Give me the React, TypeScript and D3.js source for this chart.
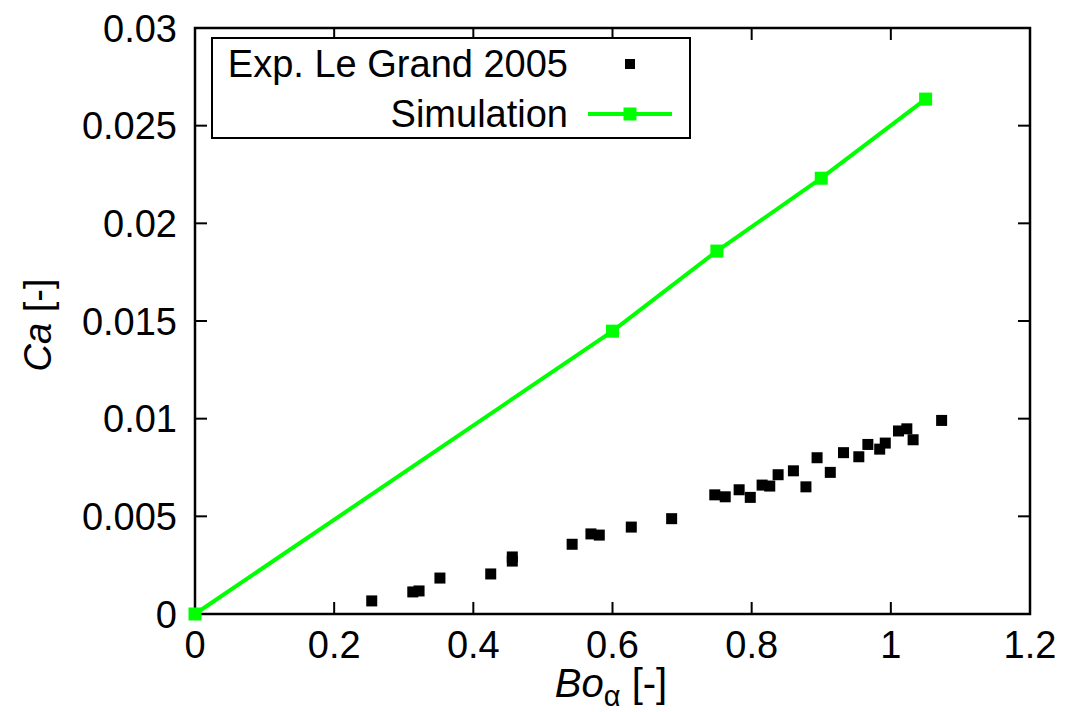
import React from "react";
import * as d3 from "d3";

const expBo = [0.254, 0.313, 0.322, 0.352, 0.425, 0.456, 0.456, 0.542, 0.569, 0.581, 0.627, 0.685, 0.747, 0.762, 0.782, 0.798, 0.815, 0.826, 0.838, 0.86, 0.878, 0.894, 0.913, 0.932, 0.954, 0.967, 0.984, 0.992, 1.011, 1.023, 1.032, 1.073];
const expCa = [0.00067, 0.00113, 0.00118, 0.00184, 0.00205, 0.00271, 0.00292, 0.00357, 0.0041, 0.00404, 0.00445, 0.00488, 0.0061, 0.006, 0.00636, 0.00597, 0.0066, 0.00655, 0.00713, 0.00733, 0.00651, 0.008, 0.00725, 0.00826, 0.00805, 0.00868, 0.00844, 0.00875, 0.00937, 0.00948, 0.00892, 0.00991];
const simBo = [0, 0.6, 0.75, 0.9, 1.05];
const simCa = [0, 0.01448, 0.01858, 0.02231, 0.02636];
const xTicks = [0, 0.2, 0.4, 0.6, 0.8, 1, 1.2];
const xTickLabels = ["0", "0.2", "0.4", "0.6", "0.8", "1", "1.2"];
const yTicks = [0, 0.005, 0.01, 0.015, 0.02, 0.025, 0.03];
const yTickLabels = ["0", "0.005", "0.01", "0.015", "0.02", "0.025", "0.03"];
const legendLabels = ["Exp. Le Grand 2005", "Simulation"];

const W = 1078, H = 712;
const L = 195, R = 1030, T = 28, B = 614;
const FONT = "'Liberation Sans', Arial, Helvetica, sans-serif";
const GREEN = "#00ff00";
const FS = 38;

export default function App() {
  const x = d3.scaleLinear().domain([0, 1.2]).range([L, R]);
  const y = d3.scaleLinear().domain([0, 0.03]).range([B, T]);
  const line = d3.line<number>().x((_, i) => x(simBo[i])).y((_, i) => y(simCa[i]));
  const tl = 12;
  const ms = 13;
  const es = 11;
  return (
    <svg width={W} height={H} style={{ position: "absolute", left: 0, top: 0, background: "#fff" }} fontFamily={FONT}>
      <rect x={0} y={0} width={W} height={H} fill="#fff" />
      {xTicks.map((t, i) => (
        <g key={"xt" + i}>
          {i > 0 && i < xTicks.length - 1 && (
            <>
              <line x1={x(t)} x2={x(t)} y1={B} y2={B - tl} stroke="#000" strokeWidth={2} />
              <line x1={x(t)} x2={x(t)} y1={T} y2={T + tl} stroke="#000" strokeWidth={2} />
            </>
          )}
          <text x={x(t)} y={658} fontSize={FS} textAnchor="middle" fill="#000">{xTickLabels[i]}</text>
        </g>
      ))}
      {yTicks.map((t, i) => (
        <g key={"yt" + i}>
          {i > 0 && i < yTicks.length - 1 && (
            <>
              <line x1={L} x2={L + tl} y1={y(t)} y2={y(t)} stroke="#000" strokeWidth={2} />
              <line x1={R} x2={R - tl} y1={y(t)} y2={y(t)} stroke="#000" strokeWidth={2} />
            </>
          )}
          <text x={177} y={y(t)} dy="0.36em" fontSize={FS} textAnchor="end" fill="#000">{yTickLabels[i]}</text>
        </g>
      ))}
      <rect x={212} y={38} width={478} height={100} fill="#fff" stroke="#000" strokeWidth={2} />
      <text x={568} y={77} fontSize={FS} textAnchor="end" fill="#000">{legendLabels[0]}</text>
      <rect x={630 - 5} y={64 - 5} width={10} height={10} fill="#000" />
      <text x={568} y={127} fontSize={FS} textAnchor="end" fill="#000">{legendLabels[1]}</text>
      <line x1={588} x2={672} y1={114} y2={114} stroke={GREEN} strokeWidth={4} />
      <rect x={630 - ms / 2} y={114 - ms / 2} width={ms} height={ms} fill={GREEN} />
      <rect x={L} y={T} width={R - L} height={B - T} fill="none" stroke="#000" strokeWidth={2.5} />
      {expBo.map((v, i) => (
        <rect key={"e" + i} x={x(v) - es / 2} y={y(expCa[i]) - es / 2} width={es} height={es} fill="#000" />
      ))}
      <path d={line(simBo) || ""} fill="none" stroke={GREEN} strokeWidth={4} />
      {simBo.map((v, i) => (
        <rect key={"s" + i} x={x(v) - ms / 2} y={y(simCa[i]) - ms / 2} width={ms} height={ms} fill={GREEN} />
      ))}
      <text x={611} y={697} fontSize={40} textAnchor="middle" fill="#000">
        <tspan fontStyle="italic">Bo</tspan>
        <tspan fontSize={29} dy={9}>α</tspan>
        <tspan dy={-9}> [-]</tspan>
      </text>
      <text transform="translate(51,325) rotate(-90)" fontSize={FS} textAnchor="middle" fill="#000">
        <tspan fontStyle="italic">Ca</tspan>
        <tspan> [-]</tspan>
      </text>
    </svg>
  );
}
